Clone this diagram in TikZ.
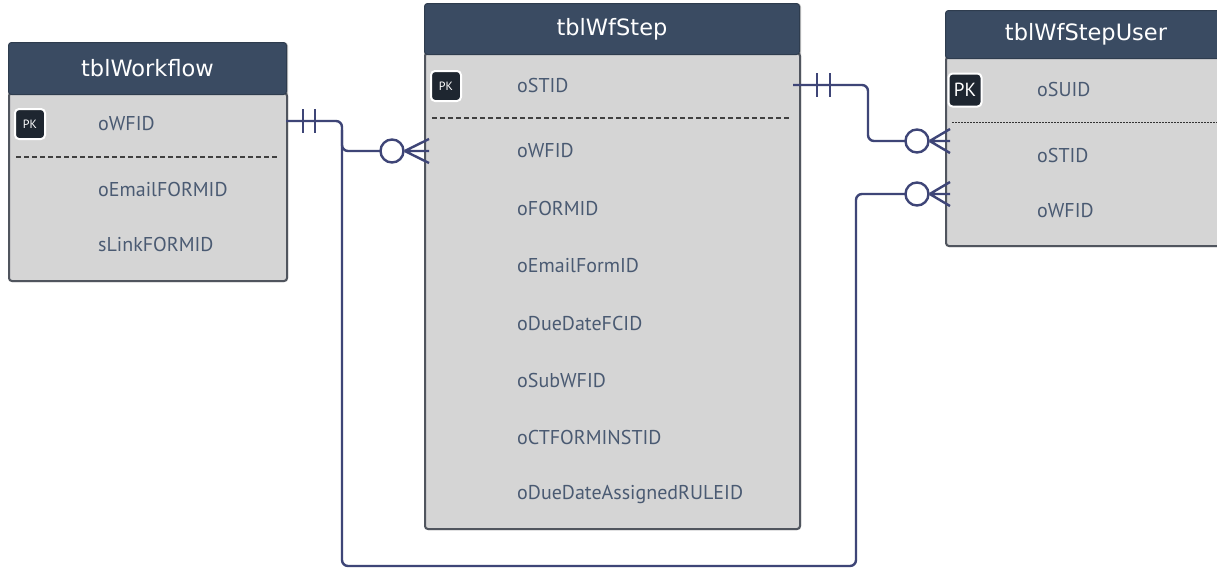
\documentclass[tikz,border=0pt]{standalone}
\usepackage{fontspec}
\setmainfont{PT Sans}
\newfontfamily\hdrfont{DejaVu Sans}
\usetikzlibrary{calc}
\definecolor{hdr}{HTML}{3A4B62}
\definecolor{bodyc}{HTML}{D5D5D5}
\definecolor{bord}{HTML}{50555E}
\definecolor{txt}{HTML}{4A5A72}
\definecolor{conn}{HTML}{3E4577}
\definecolor{pkc}{HTML}{1E2630}
\begin{document}
\begin{tikzpicture}[x=1pt,y=-1pt,
  hdrbox/.style={fill=hdr, draw=hdr!80!black, line width=1pt, rounded corners=3pt, anchor=north west, inner sep=0},
  bodybox/.style={fill=bodyc, draw=bord, line width=2pt, rounded corners=3pt, anchor=north west, inner sep=0},
  shadowbox/.style={fill=black!25, rounded corners=4pt, anchor=north west, inner sep=0},
  tabtitle/.style={text=white, font=\hdrfont\fontsize{22.5}{26}\selectfont, inner sep=0},
  field/.style={anchor=west, text=txt, font=\fontsize{20}{22}\selectfont, inner sep=0},
  pk/.style={fill=pkc, draw=white, line width=2pt, rounded corners=4pt, minimum width=30pt, minimum height=30pt, text=white, font=\fontsize{12}{12}\selectfont, inner sep=0},
  pkbig/.style={pk, minimum width=33pt, minimum height=33pt, font=\fontsize{19}{19}\selectfont},
  septhick/.style={draw=black!75, line width=1.8pt, dash pattern=on 5pt off 3pt},
  septhin/.style={draw=black!80, line width=0.9pt, dash pattern=on 2pt off 1pt},
  rel/.style={draw=conn, line width=2.4pt, rounded corners=6pt},
  crow/.style={draw=conn, line width=2.4pt},
  ringc/.style={draw=conn, line width=2.4pt, fill=white, circle, minimum size=23pt, inner sep=0}
]
\useasboundingbox (0,0) rectangle (1217,571);
\fill[white] (0,0) rectangle (1217,571);

% ---------- tblWorkflow ----------
\node[shadowbox, minimum width=280pt, minimum height=240pt] (wfshadow) at (8,42) {};
\node[bodybox, minimum width=278pt, minimum height=188pt] (wfbody) at (8,92) {};
\node[hdrbox, minimum width=278pt, minimum height=52pt] (wfhdr) at (8,42) {};
\node[tabtitle] (wftitle) at (wfhdr.center) {tblWorkflow};
\node[pk] (wfpk) at (30,124) {PK};
\node[field] (wf1) at (98,124) {oWFID};
\draw[septhick] (16,157) -- (278,157);
\node[field] (wf2) at (98,189) {oEmailFORMID};
\node[field] (wf3) at (98,244) {sLinkFORMID};

% ---------- tblWfStep ----------
\node[shadowbox, minimum width=377pt, minimum height=527pt] (stshadow) at (424,3) {};
\node[bodybox, minimum width=375pt, minimum height=476pt] (stbody) at (424,52) {};
\node[hdrbox, minimum width=375pt, minimum height=51pt] (sthdr) at (424,3) {};
\node[tabtitle] (sttitle) at (sthdr.center) {tblWfStep};
\node[pk] (stpk) at (446,86) {PK};
\node[field] (st1) at (517,85) {oSTID};
\draw[septhick] (432,118) -- (791,118);
\node[field] (st2) at (517,151) {oWFID};
\node[field] (st3) at (517,208) {oFORMID};
\node[field] (st4) at (517,266) {oEmailFormID};
\node[field] (st5) at (517,323) {oDueDateFCID};
\node[field] (st6) at (517,380) {oSubWFID};
\node[field] (st7) at (517,437) {oCTFORMINSTID};
\node[field] (st8) at (517,494) {oDueDateAssignedRULEID};

% ---------- tblWfStepUser ----------
\begin{scope}
\clip (0,0) rectangle (1217,571);
\node[shadowbox, minimum width=300pt, minimum height=237pt] (sushadow) at (945,10) {};
\node[bodybox, minimum width=300pt, minimum height=189pt] (subody) at (945,56) {};
\node[hdrbox, minimum width=300pt, minimum height=48pt] (suhdr) at (945,10) {};
\end{scope}
\node[tabtitle] (sutitle) at (1086,34) {tblWfStepUser};
\node[pkbig] (supk) at (965,90) {PK};
\node[field] (su1) at (1037,89) {oSUID};
\draw[septhin] (952,122) -- (1217,122);
\node[field] (su2) at (1037,155) {oSTID};
\node[field] (su3) at (1037,211) {oWFID};

% ---------- connection points ----------
\coordinate (r1a) at (286,121);
\coordinate (r1j) at (342,121);
\coordinate (r1b) at (342,151);
\coordinate (r1c) at (392,151);
\coordinate (r1e) at (429,151);
\coordinate (r2a) at (793,85);
\coordinate (r2j) at (868,85);
\coordinate (r2c) at (917,141);
\coordinate (r2e) at (950,141);
\coordinate (r3c) at (917,194);
\coordinate (r3e) at (950,194);

% relation tblWorkflow.oWFID -> tblWfStep.oWFID and tblWfStepUser.oWFID
\draw[rel] (r1a) -- (r1j) -- (342,566) -- (856,566) -- (856,194) -- (r3c);
\draw[rel] (342,130) -- (r1b) -- (r1c);
\draw[crow] (303,109) -- (303,133) (315,109) -- (315,133);
\node[ringc] (ring1) at (r1c) {};
\draw[crow] (ring1.east) -- (r1e) (ring1.east) -- ($(r1e)+(0,-12)$) (ring1.east) -- ($(r1e)+(0,12)$);

% relation tblWfStep.oSTID -> tblWfStepUser.oSTID
\draw[rel] (r2a) -- (r2j) -- (868,141) -- (r2c);
\draw[crow] (817,73) -- (817,97) (830,73) -- (830,97);
\node[ringc] (ring2) at (r2c) {};
\draw[crow] (ring2.east) -- (r2e) (ring2.east) -- ($(r2e)+(0,-12)$) (ring2.east) -- ($(r2e)+(0,12)$);

\node[ringc] (ring3) at (r3c) {};
\draw[crow] (ring3.east) -- (r3e) (ring3.east) -- ($(r3e)+(0,-12)$) (ring3.east) -- ($(r3e)+(0,12)$);
\end{tikzpicture}
\end{document}
